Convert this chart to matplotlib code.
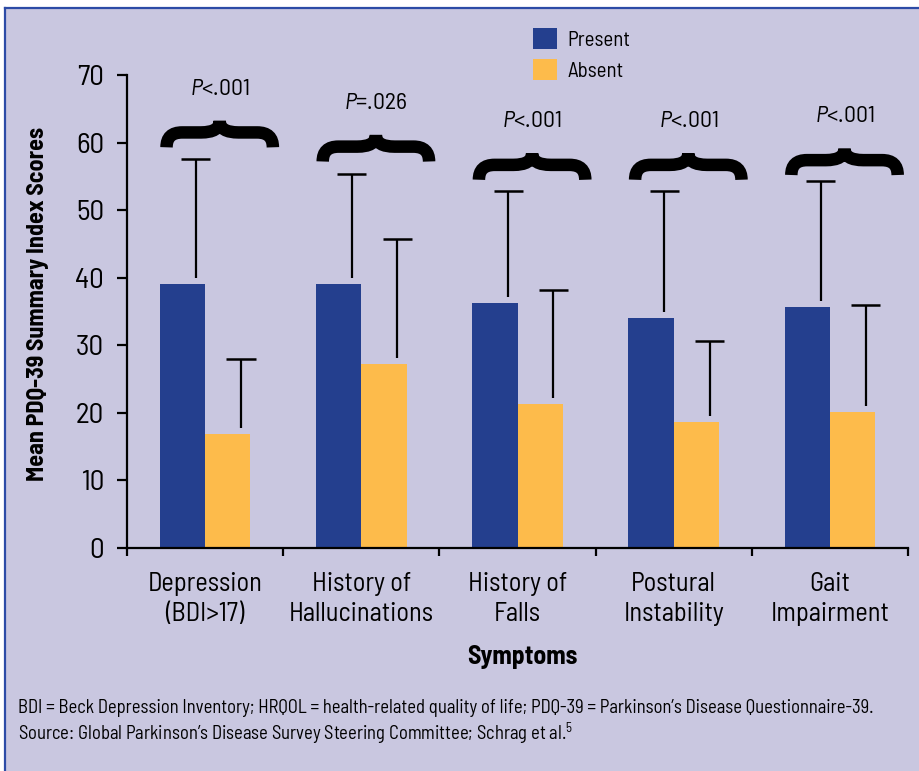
import numpy as np
import matplotlib
matplotlib.use("Agg")
import matplotlib.pyplot as plt
from matplotlib.path import Path
from matplotlib.patches import PathPatch, Rectangle
from matplotlib.lines import Line2D
from matplotlib import font_manager

# ---------------- data ----------------
categories = ["Depression\n(BDI>17)", "History of\nHallucinations", "History of\nFalls",
              "Postural\nInstability", "Gait\nImpairment"]
present = [39.0, 39.0, 36.3, 34.0, 35.7]
absent = [16.9, 27.2, 21.3, 18.7, 20.1]
present_err_top = [57.6, 55.4, 52.8, 52.8, 54.3]
absent_err_top = [28.0, 45.8, 38.2, 30.6, 36.0]
p_labels = ["<.001", "=.026", "<.001", "<.001", "<.001"]
bracket_levels = [59.3, 57.2, 54.5, 54.5, 55.2]
yticks = [0, 10, 20, 30, 40, 50, 60, 70]

# ---------------- fonts ----------------
avail = {f.name for f in font_manager.fontManager.ttflist}
base = "Liberation Sans"
for cand in ["Barlow Semi Condensed", "Sofia Sans Semi Condensed", "Roboto Condensed",
             "Liberation Sans Narrow", "Liberation Sans"]:
    if cand in avail:
        base = cand
        break
plt.rcParams["font.family"] = [base, "DejaVu Sans"]
plt.rcParams["mathtext.fontset"] = "custom"
plt.rcParams["mathtext.rm"] = base
plt.rcParams["mathtext.it"] = base + ":italic"

BLUE = "#243F8E"
ORANGE = "#FDBB4B"
BG = "#C9C7E0"
BORDER = "#2C4BA6"

W, H = 920, 771
fig = plt.figure(figsize=(W / 100, H / 100), dpi=100, facecolor="white")

def fx(px):
    return px / W

def fy(py):
    return 1 - py / H

# background panel with blue border on top/left
fig.patches.append(Rectangle((fx(6), 0), 1 - fx(6), fy(8), transform=fig.transFigure,
                             facecolor=BG, edgecolor="none", zorder=-10))
fig.lines.append(Line2D([fx(5), 1], [fy(8), fy(8)], transform=fig.transFigure,
                        color=BORDER, lw=1.6, zorder=-5))
fig.lines.append(Line2D([fx(5), fx(5)], [0, fy(8)], transform=fig.transFigure,
                        color=BORDER, lw=1.6, zorder=-5))

ax = fig.add_axes([fx(127), fy(548), fx(908) - fx(127), fy(75) - fy(548)])
ax.set_facecolor("none")
ax.set_xlim(-0.5, 4.5)
ax.set_ylim(0, 70)

x = np.arange(len(categories))
bw = 0.29
ax.bar(x - bw / 2, present, width=bw, color=BLUE, label="Present", zorder=2)
ax.bar(x + bw / 2, absent, width=bw, color=ORANGE, label="Absent", zorder=2)

# error bars (upper only, slightly offset to the right of bar centres)
off = 0.085
cap = 0.093
for xi, v, t in zip(x - bw / 2 + off, present, present_err_top):
    ax.vlines(xi, v + 0.9, t, color="black", lw=1.6, zorder=3)
    ax.hlines(t, xi - cap, xi + cap, color="black", lw=1.8, zorder=3)
for xi, v, t in zip(x + bw / 2 + off, absent, absent_err_top):
    ax.vlines(xi, v + 0.9, t, color="black", lw=1.6, zorder=3)
    ax.hlines(t, xi - cap, xi + cap, color="black", lw=1.8, zorder=3)

# curly braces
def brace(ax, x0, x1, yb):
    d = 0.038
    ya = yb + 2.2
    ypk = yb + 3.9
    xm = (x0 + x1) / 2
    r = 0.1
    rm = 0.12
    verts = [
        (x0 + d, yb), (x0 + d, ya), (x0 + d + r, ya),
        (xm - rm, ya),
        (xm, ya), (xm, ypk),
        (xm, ya), (xm + rm, ya),
        (x1 - d - r, ya),
        (x1 - d, ya), (x1 - d, yb),
    ]
    codes = [Path.MOVETO, Path.CURVE3, Path.CURVE3, Path.LINETO,
             Path.CURVE3, Path.CURVE3, Path.CURVE3, Path.CURVE3,
             Path.LINETO, Path.CURVE3, Path.CURVE3]
    ax.add_patch(PathPatch(Path(verts, codes), facecolor="none", edgecolor="black",
                           lw=9, capstyle="butt", joinstyle="miter", zorder=4,
                           clip_on=False))

for xi, lvl, pl in zip(x, bracket_levels, p_labels):
    x0, x1 = xi - 0.285, xi + 0.472
    brace(ax, x0, x1, lvl)
    ax.text((x0 + x1) / 2, lvl + 8.6, r"$\it{P}$" + pl, ha="center", va="center",
            fontsize=17, zorder=5)

# axes styling
for s in ["top", "right"]:
    ax.spines[s].set_visible(False)
for s in ["left", "bottom"]:
    ax.spines[s].set_linewidth(1.6)
ax.set_yticks(yticks)
ax.tick_params(axis="y", length=7.5, width=1.6, labelsize=21, pad=9)
ax.set_xticks(np.arange(-0.5, 5.0, 1.0))
ax.set_xticklabels([])
ax.tick_params(axis="x", which="major", length=6, width=1.6)
ax.set_xticks(x, minor=True)
ax.set_xticklabels(categories, minor=True, fontsize=19, linespacing=1.32)
ax.tick_params(axis="x", which="minor", length=0, pad=17)

fig.text(fx(38), fy(304), "Mean PDQ-39 Summary Index Scores", rotation=90,
         ha="center", va="center", fontsize=17.3, fontweight="bold")

fig.text(fx(522), fy(657), "Symptoms", ha="center", va="center", fontsize=18.5,
         fontweight="bold")

leg = ax.legend(loc="upper left", bbox_to_anchor=(fx(533), fy(28)),
                bbox_transform=fig.transFigure, frameon=False, fontsize=15,
                handlelength=1.17, handleheight=1.2, labelspacing=0.45,
                handletextpad=0.5, borderpad=0, borderaxespad=0)

fig.text(fx(18), fy(708),
         "BDI = Beck Depression Inventory; HRQOL = health-related quality of life; "
         "PDQ-39 = Parkinson\u2019s Disease Questionnaire-39.",
         ha="left", va="center", fontsize=13.4)
fig.text(fx(18), fy(733),
         "Source: Global Parkinson\u2019s Disease Survey Steering Committee; Schrag et al.$^{5}$",
         ha="left", va="center", fontsize=13.4)

fig.savefig("out.png", dpi=100, facecolor=fig.get_facecolor())
